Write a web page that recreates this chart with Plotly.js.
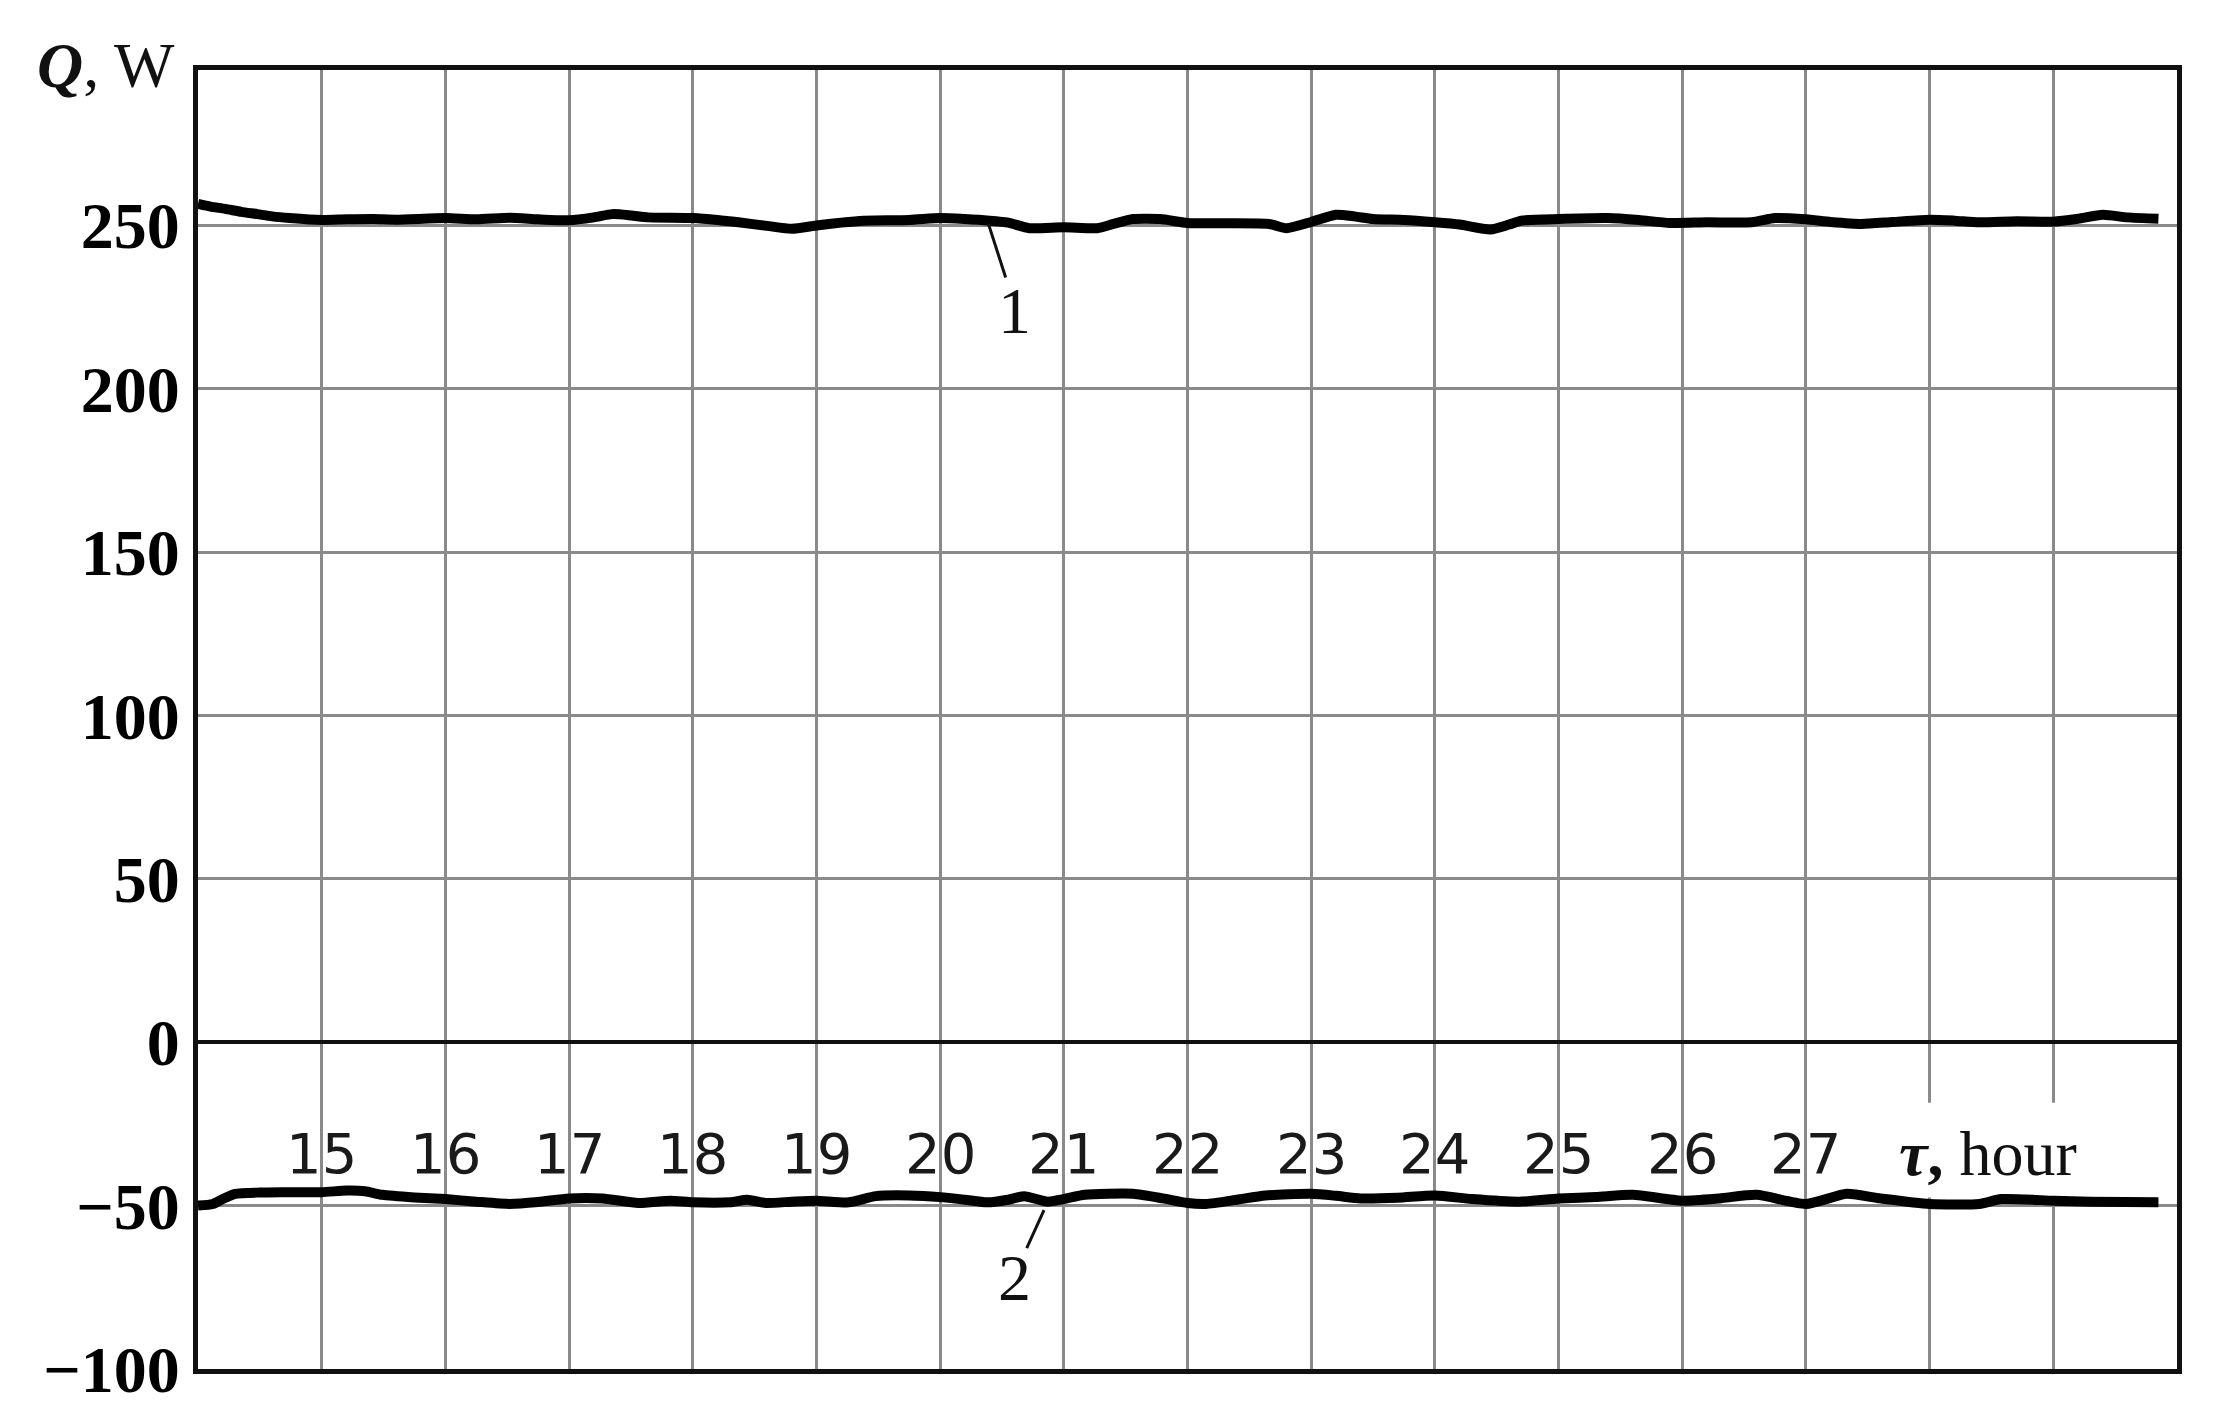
<!DOCTYPE html>
<html>
<head>
<meta charset="utf-8">
<script src="https://cdn.plot.ly/plotly-3.0.1.min.js"></script>
<style>
  html, body { margin: 0; padding: 0; background: #fff; }
  #myDiv { width: 2215px; height: 1419px; }
</style>
</head>
<body>
<div id="myDiv"></div>
<script>
// curve 1 (heating)
let hours1 = [14.0, 14.1, 14.22, 14.35, 14.48, 14.6, 14.74, 15.0, 15.2, 15.42, 15.6, 16.0, 16.25, 16.52, 16.75, 17.0,
  17.2, 17.35, 17.5, 17.64, 18.0, 18.2, 18.37, 18.6, 18.8, 19.0, 19.2, 19.38, 19.75, 20.0, 20.2, 20.4, 20.55,
  20.72, 21.0, 21.27, 21.4, 21.56, 21.78, 22.0, 22.3, 22.66, 22.8, 23.0, 23.2, 23.35, 23.5, 23.75, 24.0, 24.2,
  24.45, 24.6, 24.7, 25.0, 25.4, 25.65, 25.9, 26.2, 26.56, 26.75, 27.0, 27.2, 27.45, 27.7, 28.0, 28.2, 28.4,
  28.7, 29.0, 29.2, 29.4, 29.6, 29.85];
let q1 = [256.5, 255.7, 255, 254.1, 253.4, 252.7, 252.2, 251.6, 251.8, 251.9, 251.7, 252.2, 251.8, 252.3, 251.8, 251.5,
  252.4, 253.4, 253, 252.4, 252.2, 251.6, 250.9, 249.8, 248.9, 249.9, 250.8, 251.4, 251.6, 252.2, 251.9, 251.4, 250.8,
  249.1, 249.4, 249.1, 250.4, 251.9, 251.9, 250.7, 250.6, 250.4, 249.1, 251, 253.2, 252.7, 251.9, 251.6, 250.9, 250.2,
  248.7, 250.2, 251.4, 251.9, 252.2, 251.6, 250.7, 250.9, 250.9, 252.2, 251.8, 251, 250.4, 251, 251.7, 251.4, 250.9,
  251.2, 251.1, 252, 253.2, 252.4, 252];

// curve 2 (cooling)
let hours2 = [14.0, 14.12, 14.2, 14.3, 14.5, 14.67, 15.0, 15.2, 15.35, 15.49, 15.75, 16.0, 16.25, 16.52, 16.75, 17.0,
  17.27, 17.56, 17.82, 18.0, 18.3, 18.44, 18.59, 18.8, 19.0, 19.26, 19.48, 19.75, 20.0, 20.2, 20.38, 20.55, 20.68,
  20.87, 21.0, 21.17, 21.56, 21.8, 22.0, 22.15, 22.4, 22.63, 23.0, 23.2, 23.4, 23.7, 24.0, 24.3, 24.68, 25.0, 25.3,
  25.6, 26.0, 26.3, 26.6, 27.0, 27.33, 27.6, 28.0, 28.4, 28.58, 29.0, 29.3, 29.85];
let q2 = [-50, -49.5, -48, -46.4, -46, -45.9, -45.9, -45.4, -45.6, -46.7, -47.5, -48, -48.8, -49.5, -48.9, -47.8,
  -47.8, -49.2, -48.5, -49, -49, -48.2, -49.2, -48.8, -48.5, -49, -47.1, -46.9, -47.4, -48.2, -49, -48.2, -47.1,
  -48.8, -48, -46.7, -46.4, -47.8, -49.2, -49.5, -48.2, -46.9, -46.4, -47, -47.8, -47.6, -46.9, -48, -48.8, -47.8, -47.4,
  -46.7, -48.5, -47.8, -46.7, -49.5, -46.4, -47.8, -49.5, -49.5, -48, -48.5, -48.8, -49];

let hourTicks = [15, 16, 17, 18, 19, 20, 21, 22, 23, 24, 25, 26, 27];
let qTicks = [-100, -50, 0, 50, 100, 150, 200, 250];

// curve labels with their leader lines
let curveLabels = [
  {text: "1", line: [20.39, 250.5, 20.53, 234], at: [20.6, 224]},
  {text: "2", line: [20.84, -51.4, 20.7, -63], at: [20.6, -72]}
];

var serif = "Liberation Serif, Times New Roman, serif";

var data = [
  {x: hours1, y: q1, mode: "lines", line: {color: "#000", width: 10, shape: "spline", smoothing: 0.6}, hoverinfo: "skip"},
  {x: hours2, y: q2, mode: "lines", line: {color: "#000", width: 10, shape: "spline", smoothing: 0.6}, hoverinfo: "skip"}
];

var annotations = hourTicks.map(h => ({
  x: h, y: -34, xref: "x", yref: "y", text: String(h), showarrow: false,
  font: {family: "DejaVu Sans, Verdana, sans-serif", size: 56, color: "#1a1a1a"}
}));

annotations.push({
  x: 28.47, y: -34, xref: "x", yref: "y", showarrow: false,
  text: "<b><i>τ</i>,</b> hour",
  font: {family: serif, size: 64, color: "#111"}
});

// Q, W sits at the top left corner, left of the frame
annotations.push({
  x: (35 - 198) / (2215 - 198 - 38), y: 1 + (70 - 66) / (1419 - 70 - 50),
  xref: "paper", yref: "paper", showarrow: false,
  text: "<b><i>Q</i></b>, W", xanchor: "left", yanchor: "middle",
  font: {family: serif, size: 64, color: "#111"}
});

var shapes = [];
curveLabels.forEach(c => {
  shapes.push({type: "line", xref: "x", yref: "y", x0: c.line[0], y0: c.line[1], x1: c.line[2], y1: c.line[3],
    line: {color: "#111", width: 3}, layer: "above"});
  annotations.push({x: c.at[0], y: c.at[1], xref: "x", yref: "y", text: c.text, showarrow: false,
    font: {family: serif, size: 66, color: "#111"}});
});

// white patch that breaks the 28 and 29 gridlines behind the axis name
shapes.push({type: "rect", xref: "x", yref: "y", x0: 27.6, x1: 29.4, y0: -47.5, y1: -18.5,
  fillcolor: "#fff", line: {width: 0}, layer: "between"});

var layout = {
  width: 2215,
  height: 1419,
  margin: {l: 198, r: 38, t: 70, b: 50},
  paper_bgcolor: "#fff",
  plot_bgcolor: "#fff",
  showlegend: false,
  xaxis: {
    range: [14, 30], dtick: 1, tick0: 14, showticklabels: false, ticks: "",
    showgrid: true, gridcolor: "#8a8a8a", gridwidth: 3,
    showline: true, linecolor: "#111", linewidth: 5, mirror: true, zeroline: false
  },
  yaxis: {
    range: [-100, 297.5], tickvals: qTicks, ticks: "", ticklabelstandoff: 0,
    tickfont: {family: serif, size: 66, color: "#000", weight: "bold"},
    showgrid: true, gridcolor: "#8a8a8a", gridwidth: 3,
    showline: true, linecolor: "#111", linewidth: 5, mirror: true,
    zeroline: true, zerolinecolor: "#111", zerolinewidth: 4
  },
  annotations: annotations,
  shapes: shapes
};

Plotly.newPlot("myDiv", data, layout, {staticPlot: true});
</script>
</body>
</html>
